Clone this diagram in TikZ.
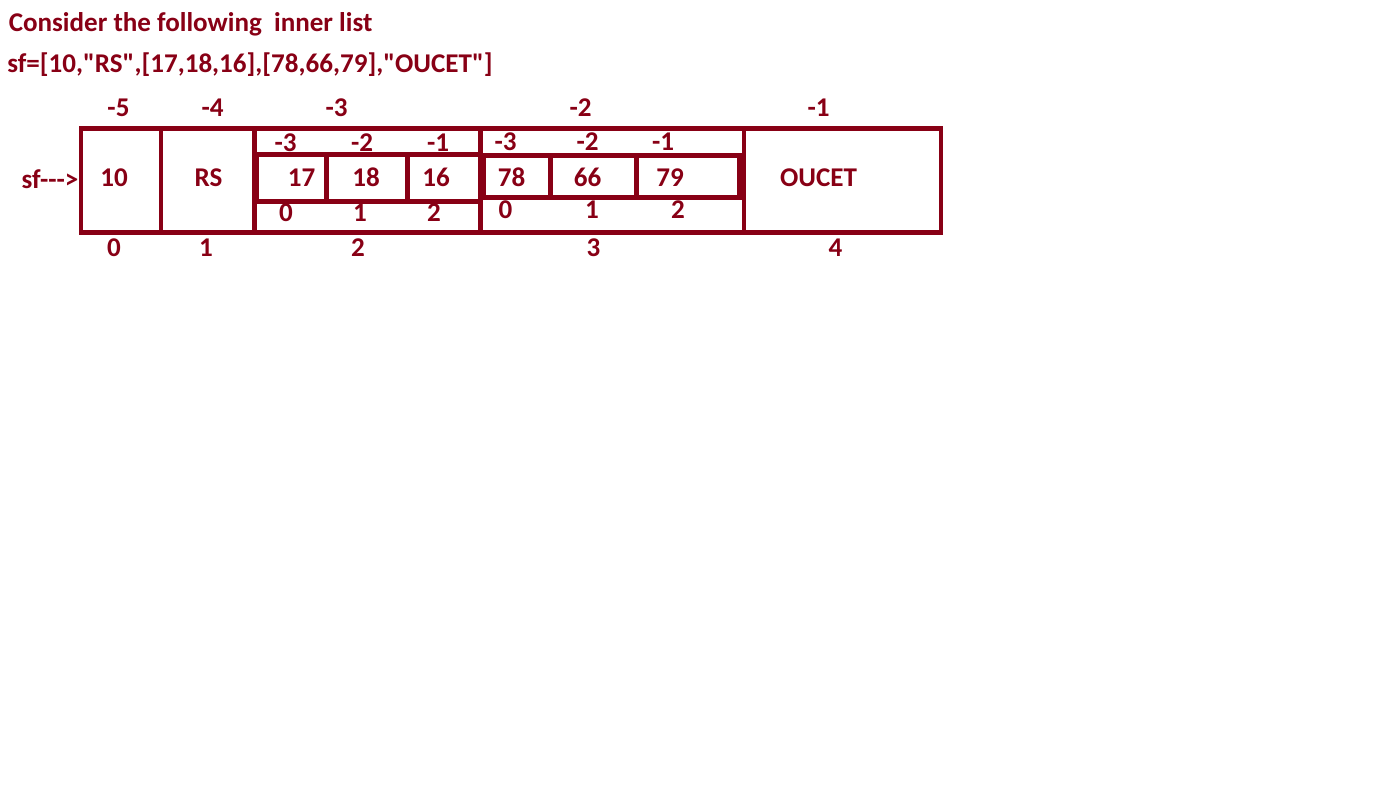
\documentclass[tikz,border=0pt]{standalone}
\usepackage{fontspec}
\setmainfont{Carlito}[Ligatures=TeXOff]
\usepackage{tikz}
\definecolor{darkred}{RGB}{136,0,21}

\begin{document}
\begin{tikzpicture}[x=0.75pt,y=-0.75pt,
  box/.style={draw=darkred, line width=3.6pt},
  lbl/.style={text=darkred, font=\bfseries\fontsize{20.3}{24}\selectfont, inner sep=0pt, anchor=base}]
\useasboundingbox (0,0) rectangle (1398,800);
% outer list
\draw[box] (81,128.5) rectangle (941,232.5)
(161,128.5) -- (161,232.5)
(254.5,128.5) -- (254.5,230)
(480.5,128.5) -- (480.5,232.5)
(744,128.5) -- (744,232.5);
% inner lists
\draw[box] (254.5,154.5) -- (480.5,154.5)
(257,154.5) rectangle (480.5,201.5)
(326.5,154.5) -- (326.5,201.5)
(407.5,154.5) -- (407.5,201.5);
\draw[box] (484,155.5) rectangle (739.5,197.5)
(550.5,155.5) -- (550.5,197.5)
(636.5,155.5) -- (636.5,197.5);
% texts
\draw[]
(8.5,31) node[lbl, anchor=base west] (title) {Consider the following\ \ inner list}
(7,72) node[lbl, anchor=base west] (sfline) {sf=[10,"RS",[17,18,16],[78,66,79],"OUCET"]}
(50,188) node[lbl] (sf) {sf--->}
(118.5,116.5) node[lbl] (t0) {-5}
(212.5,116.5) node[lbl] (t1) {-4}
(336.5,116.5) node[lbl] (t2) {-3}
(580.5,116.5) node[lbl] (t3) {-2}
(818.5,116.5) node[lbl] (t4) {-1}
(114,256.5) node[lbl] (b0) {0}
(206,256.5) node[lbl] (b1) {1}
(358,256.5) node[lbl] (b2) {2}
(593.5,256.5) node[lbl] (b3) {3}
(835.5,256.5) node[lbl] (b4) {4}
(114,186.5) node[lbl] (v10) {10}
(208.5,186.5) node[lbl] (vRS) {RS}
(301.5,186.5) node[lbl] (v17) {17}
(366,186.5) node[lbl] (v18) {18}
(436,186.5) node[lbl] (v16) {16}
(511.5,186.5) node[lbl] (v78) {78}
(587.5,186.5) node[lbl] (v66) {66}
(670,186.5) node[lbl] (v79) {79}
(818.5,186.5) node[lbl] (vOUCET) {OUCET}
(285.5,151.5) node[lbl] (it20) {-3}
(362,151.5) node[lbl] (it21) {-2}
(438,151.5) node[lbl] (it22) {-1}
(286,221) node[lbl] (ib20) {0}
(360,221) node[lbl] (ib21) {1}
(434,221) node[lbl] (ib22) {2}
(505.5,150) node[lbl] (it30) {-3}
(587.5,150) node[lbl] (it31) {-2}
(663,150) node[lbl] (it32) {-1}
(505.5,218.5) node[lbl] (ib30) {0}
(592,218.5) node[lbl] (ib31) {1}
(678,218.5) node[lbl] (ib32) {2};
\end{tikzpicture}
\end{document}
